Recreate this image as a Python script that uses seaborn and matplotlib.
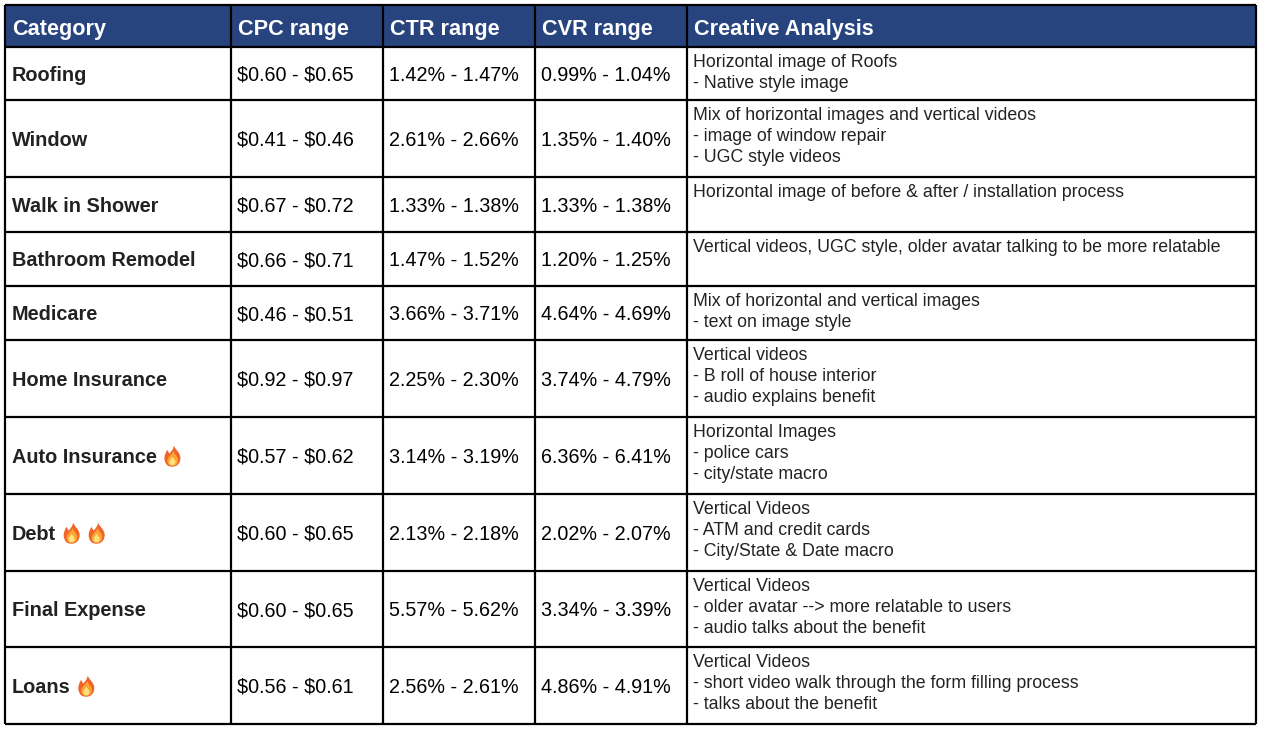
import matplotlib
matplotlib.use("Agg")
import matplotlib.pyplot as plt
import seaborn as sns
import pandas as pd
from matplotlib.path import Path
from matplotlib.patches import PathPatch, Rectangle

# ---------------- data ----------------
columns = ["Category", "CPC range", "CTR range", "CVR range", "Creative Analysis"]
categories = ["Roofing", "Window", "Walk in Shower", "Bathroom Remodel", "Medicare",
              "Home Insurance", "Auto Insurance", "Debt", "Final Expense", "Loans"]
fire_counts = [0, 0, 0, 0, 0, 0, 1, 2, 0, 1]   # number of 🔥 after the category name
cpc_ranges = ["$0.60 - $0.65", "$0.41 - $0.46", "$0.67 - $0.72", "$0.66 - $0.71", "$0.46 - $0.51",
              "$0.92 - $0.97", "$0.57 - $0.62", "$0.60 - $0.65", "$0.60 - $0.65", "$0.56 - $0.61"]
ctr_ranges = ["1.42% - 1.47%", "2.61% - 2.66%", "1.33% - 1.38%", "1.47% - 1.52%", "3.66% - 3.71%",
              "2.25% - 2.30%", "3.14% - 3.19%", "2.13% - 2.18%", "5.57% - 5.62%", "2.56% - 2.61%"]
cvr_ranges = ["0.99% - 1.04%", "1.35% - 1.40%", "1.33% - 1.38%", "1.20% - 1.25%", "4.64% - 4.69%",
              "3.74% - 4.79%", "6.36% - 6.41%", "2.02% - 2.07%", "3.34% - 3.39%", "4.86% - 4.91%"]
creative_notes = [
    ["Horizontal image of Roofs", "- Native style image"],
    ["Mix of horizontal images and vertical videos", "- image of window repair", "- UGC style videos"],
    ["Horizontal image of before & after / installation process"],
    ["Vertical videos, UGC style, older avatar talking to be more relatable"],
    ["Mix of horizontal and vertical images", "- text on image style"],
    ["Vertical videos", "- B roll of house interior", "- audio explains benefit"],
    ["Horizontal Images", "- police cars", "- city/state macro"],
    ["Vertical Videos", "- ATM and credit cards", "- City/State & Date macro"],
    ["Vertical Videos", "- older avatar --> more relatable to users", "- audio talks about the benefit"],
    ["Vertical Videos", "- short video walk through the form filling process", "- talks about the benefit"],
]

df = pd.DataFrame({
    columns[0]: categories,
    columns[1]: cpc_ranges,
    columns[2]: ctr_ranges,
    columns[3]: cvr_ranges,
    columns[4]: ["\n".join(n) for n in creative_notes],
})

# ---------------- style / layout ----------------
sns.set_theme(style="white")
plt.rcParams["font.family"] = ["Liberation Sans", "DejaVu Sans"]

W_PX, H_PX = 1270, 736
col_edges = [5, 231, 383, 535, 687, 1256]
header_h = 42
row_heights = [53, 77, 55, 54, 54, 77, 77, 77, 76, 77]
top = 5
HEADER_BG = "#27447f"
LINE_W = 1.6

fig = plt.figure(figsize=(W_PX / 100, H_PX / 100), dpi=100)
fig.patch.set_facecolor("white")
ax = fig.add_axes([0, 0, 1, 1])
ax.set_xlim(0, W_PX)
ax.set_ylim(H_PX, 0)
ax.axis("off")

row_edges = [top, top + header_h]
for h in row_heights:
    row_edges.append(row_edges[-1] + h)

# header background
ax.add_patch(Rectangle((col_edges[0], row_edges[0]), col_edges[-1] - col_edges[0], header_h,
                       facecolor=HEADER_BG, edgecolor="none", zorder=1))

# header text
for j, name in enumerate(df.columns):
    ax.text(col_edges[j] + 7, row_edges[0] + 29.5, name, color="white", fontsize=15.6,
            fontweight="bold", va="baseline", ha="left", zorder=3, parse_math=False)


def draw_flame(x0, ybot, w, h):
    def tr(pts):
        return [(x0 + u * w, ybot - v * h) for u, v in pts]
    outer = [(0.5, 0.0), (0.85, 0.0), (1.0, 0.25), (0.97, 0.45),
             (0.93, 0.70), (0.70, 0.80), (0.58, 1.0),
             (0.55, 0.80), (0.42, 0.72), (0.32, 0.62),
             (0.27, 0.70), (0.24, 0.74), (0.20, 0.80),
             (0.0, 0.55), (0.0, 0.35), (0.08, 0.22),
             (0.15, 0.05), (0.30, 0.0), (0.5, 0.0)]
    codes = [Path.MOVETO] + [Path.CURVE4] * 18
    ax.add_patch(PathPatch(Path(tr(outer), codes), facecolor="#f0642a", edgecolor="none", zorder=4))
    mid = [(0.5, 0.04), (0.76, 0.04), (0.86, 0.20), (0.82, 0.38),
           (0.78, 0.52), (0.62, 0.58), (0.57, 0.74),
           (0.46, 0.58), (0.30, 0.52), (0.22, 0.36),
           (0.16, 0.18), (0.30, 0.04), (0.5, 0.04)]
    codes2 = [Path.MOVETO] + [Path.CURVE4] * 12
    ax.add_patch(PathPatch(Path(tr(mid), codes2), facecolor="#fba535", edgecolor="none", zorder=5))
    core = [(0.5, 0.07), (0.68, 0.07), (0.72, 0.20), (0.66, 0.30),
            (0.60, 0.38), (0.54, 0.40), (0.50, 0.48),
            (0.44, 0.38), (0.34, 0.32), (0.32, 0.22),
            (0.30, 0.12), (0.38, 0.07), (0.5, 0.07)]
    ax.add_patch(PathPatch(Path(tr(core), codes2), facecolor="#ffe07a", edgecolor="none", zorder=6))


fig.canvas.draw()
renderer = fig.canvas.get_renderer()
inv = ax.transData.inverted()

# body
for i, row in df.iterrows():
    r0, r1 = row_edges[i + 1], row_edges[i + 2]
    base = (r0 + r1) / 2 + 7.2
    t = ax.text(col_edges[0] + 7, base, row[columns[0]], color="#222222", fontsize=14.3,
                fontweight="bold", va="baseline", ha="left", zorder=3, parse_math=False)
    if fire_counts[i]:
        bb = t.get_window_extent(renderer)
        x_end = inv.transform((bb.x1, bb.y0))[0]
        x = x_end + 7
        for k in range(fire_counts[i]):
            draw_flame(x, base + 4, 17, 21)
            x += 25
    for j in (1, 2, 3):
        ax.text(col_edges[j] + 6, base, row[columns[j]], color="#000000", fontsize=14.2,
                va="baseline", ha="left", zorder=3, parse_math=False)
    for k, line in enumerate(creative_notes[i]):
        ax.text(col_edges[4] + 6, r0 + 20 + 21 * k, line, color="#222222", fontsize=12.8,
                va="baseline", ha="left", zorder=3, parse_math=False)

# grid lines
ax.hlines(row_edges, col_edges[0], col_edges[-1], colors="black", linewidth=LINE_W, zorder=7)
ax.vlines(col_edges, row_edges[0], row_edges[-1], colors="black", linewidth=LINE_W, zorder=7)

fig.savefig("out.png", dpi=100, facecolor="white")
